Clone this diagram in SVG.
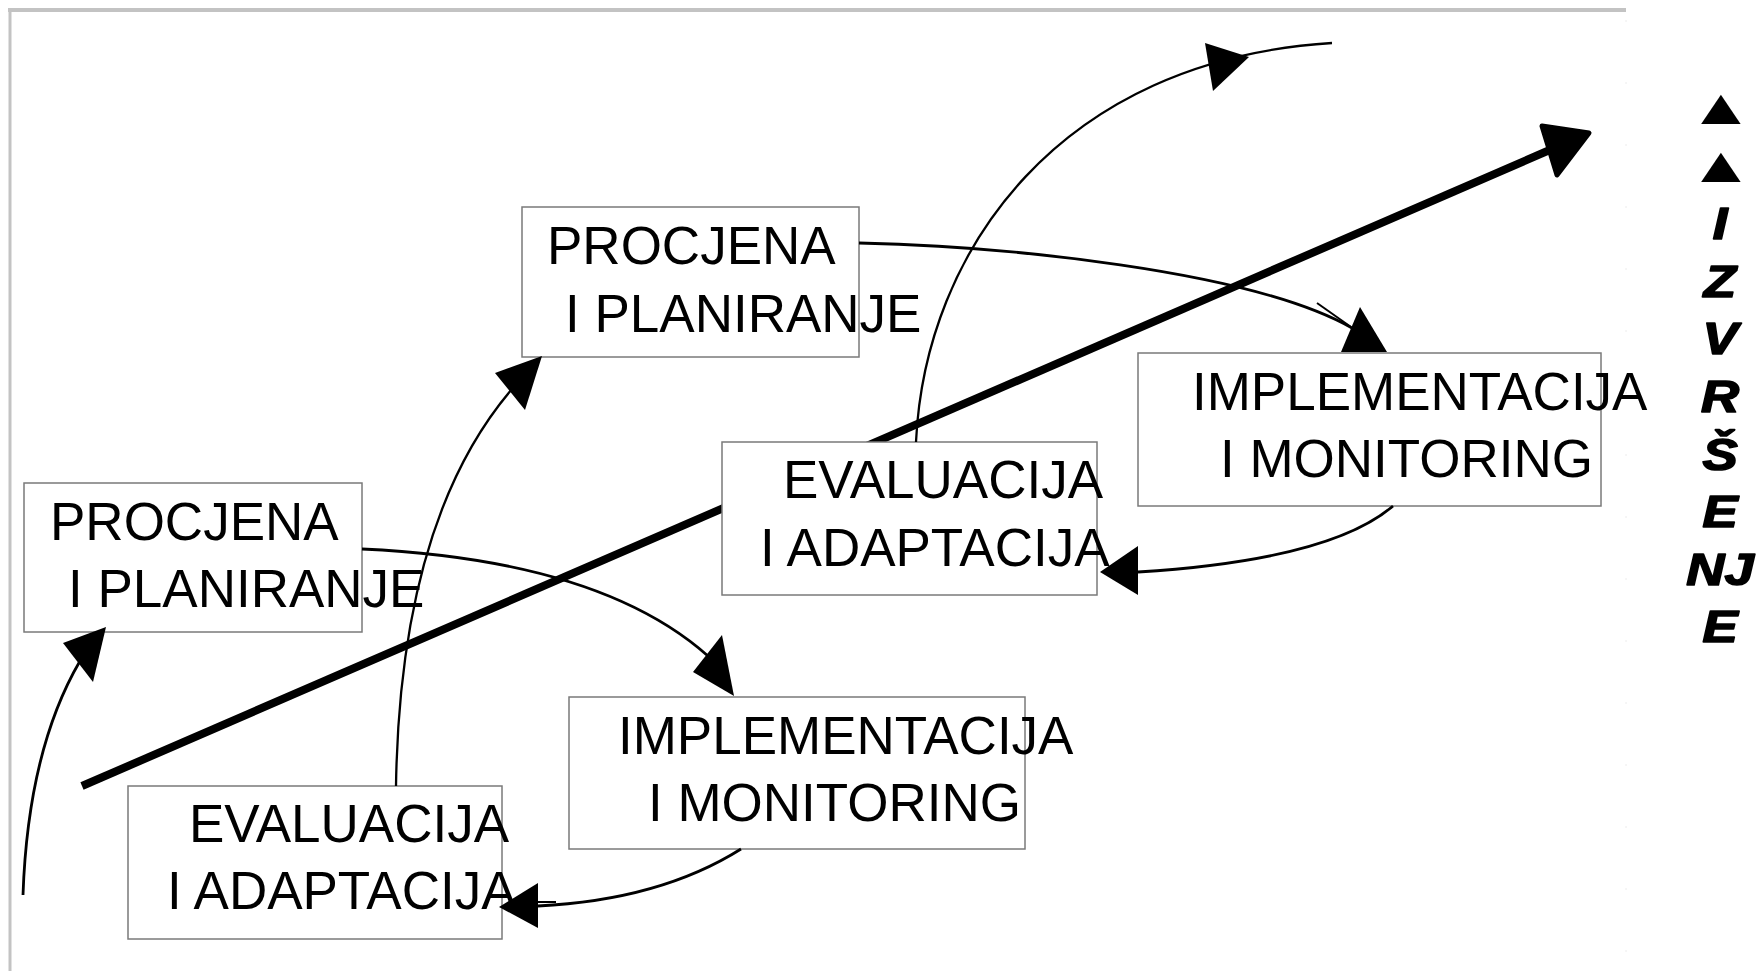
<svg xmlns="http://www.w3.org/2000/svg" width="1756" height="971" viewBox="0 0 1756 971">
  <style>
    .box { fill: #ffffff; stroke: #7a7a7a; stroke-width: 1.5; }
    .lbl { font-family: "Liberation Sans", Arial, sans-serif; font-size: 53px; fill: #000000; }
    .side { font-family: "Liberation Sans", Arial, sans-serif; font-size: 44px; font-weight: bold; font-style: italic; fill: #000000; stroke: #000000; stroke-width: 1.6; stroke-linejoin: round; }
    .tri { font-family: "Liberation Sans", Arial, sans-serif; font-size: 50px; font-weight: bold; fill: #000000; }
    .curve { fill: none; stroke: #000000; stroke-width: 2.8; }
    .thin { fill: none; stroke: #000000; stroke-width: 2.3; }
    .head { fill: #000000; stroke: none; }
    .frame { stroke: #c3c3c3; fill: none; }
  </style>
  <rect x="0" y="0" width="1756" height="971" fill="#ffffff"/>

  <g id="frame">
    <line class="frame" x1="8" y1="10" x2="1626" y2="10" stroke-width="4"/>
    <line class="frame" x1="10" y1="8" x2="10" y2="971" stroke-width="3"/>
    <line x1="1626" y1="20" x2="1626" y2="960" stroke="#ececec" stroke-width="1" stroke-dasharray="2 60"/>
  </g>

  <g id="trend">
    <line x1="82" y1="786" x2="1552" y2="149" stroke="#000000" stroke-width="8"/>
    <polygon points="1589,133 1542,126 1557,175" fill="#000000" stroke="#000000" stroke-width="5" stroke-linejoin="round"/>
  </g>

  <g id="node-procjena-1">
    <rect class="box" x="24" y="483" width="338" height="149"/>
    <text class="lbl" x="50" y="540">PROCJENA</text>
    <text class="lbl" x="68" y="607">I PLANIRANJE</text>
  </g>

  <g id="node-evaluacija-1">
    <rect class="box" x="128" y="786" width="374" height="153"/>
    <text class="lbl" x="189" y="842">EVALUACIJA</text>
    <text class="lbl" x="167" y="909">I ADAPTACIJA</text>
  </g>

  <g id="node-implementacija-1">
    <rect class="box" x="569" y="697" width="456" height="152"/>
    <text class="lbl" x="618" y="754">IMPLEMENTACIJA</text>
    <text class="lbl" x="648" y="821">I MONITORING</text>
  </g>

  <g id="node-procjena-2">
    <rect class="box" x="522" y="207" width="337" height="150"/>
    <text class="lbl" x="547" y="264">PROCJENA</text>
    <text class="lbl" x="565" y="332">I PLANIRANJE</text>
  </g>

  <g id="node-evaluacija-2">
    <rect class="box" x="722" y="442" width="375" height="153"/>
    <text class="lbl" x="783" y="498">EVALUACIJA</text>
    <text class="lbl" x="760" y="566">I ADAPTACIJA</text>
  </g>

  <g id="node-implementacija-2">
    <rect class="box" x="1138" y="353" width="463" height="153"/>
    <text class="lbl" x="1192" y="410">IMPLEMENTACIJA</text>
    <text class="lbl" x="1220" y="477">I MONITORING</text>
  </g>

  <g id="connectors">
    <path class="curve" d="M23,895 Q28,750 80,661"/>
    <polygon class="head" points="106,627 63,643 93,682"/>

    <path class="curve" d="M362,549 Q600,560 708,656"/>
    <polygon class="head" points="734,696 722,635 693,672"/>

    <path class="curve" d="M741,849 Q660,900 538,906"/>
    <polygon class="head" points="499,907 538,883 538,928"/>
    <line x1="538" y1="902" x2="556" y2="902" stroke="#000000" stroke-width="2"/>

    <path class="thin" d="M396,786 Q400,520 512,389"/>
    <polygon class="head" points="542,356 495,373 525,410"/>

    <path class="curve" d="M859,243 C1000,246 1250,270 1352,328"/>
    <line x1="1317" y1="303" x2="1351" y2="327" stroke="#000000" stroke-width="2"/>
    <polygon class="head" points="1360,307 1341,352 1387,352"/>

    <path class="curve" d="M1393,506 Q1330,560 1138,572"/>
    <polygon class="head" points="1100,572 1138,546 1138,595"/>

    <path class="thin" d="M916,442 C925,250 1060,60 1332,43"/>
    <polygon class="head" points="1249,57 1205,43 1213,91"/>
  </g>

  <g id="side-label">
    <g transform="translate(1721 0) scale(1.35 1)">
      <text class="tri" text-anchor="middle"><tspan x="0" y="124">▲</tspan><tspan x="0" y="182">▲</tspan></text>
    </g>
    <g transform="translate(1720 0) scale(1.2 1)">
      <text class="side" text-anchor="middle"><tspan x="0" y="239">I</tspan><tspan x="0" y="297">Z</tspan><tspan x="0" y="354">V</tspan><tspan x="0" y="412">R</tspan><tspan x="0" y="470">Š</tspan><tspan x="0" y="527">E</tspan><tspan x="0" y="585">NJ</tspan><tspan x="0" y="642">E</tspan></text>
    </g>
  </g>
</svg>
